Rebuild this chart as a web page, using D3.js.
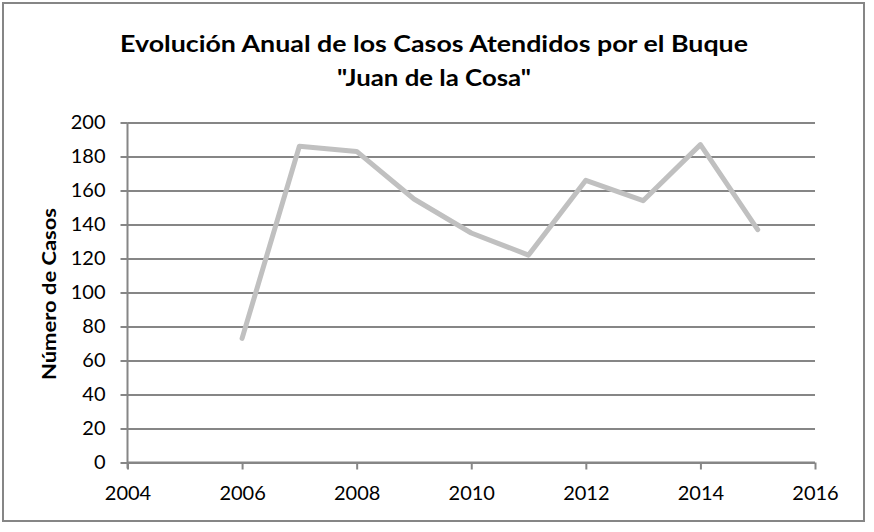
<!DOCTYPE html>
<html>
<head>
<meta charset="utf-8">
<script src="https://cdn.jsdelivr.net/npm/d3@7.9.0/dist/d3.min.js"></script>
<style>
  html, body { margin: 0; padding: 0; background: #fff; }
  svg { display: block; }
  text { font-family: Lato, "Open Sans", sans-serif; fill: #000; }
</style>
</head>
<body>
<div id="chart"></div>
<script>
// Datos
const years = [2006, 2007, 2008, 2009, 2010, 2011, 2012, 2013, 2014, 2015];
const casos = [73, 186, 183, 155, 135, 122, 166, 154, 187, 137];
const xTicks = [2004, 2006, 2008, 2010, 2012, 2014, 2016];
const yTicks = [0, 20, 40, 60, 80, 100, 120, 140, 160, 180, 200];
const titleLines = ['Evolución Anual de los Casos Atendidos por el Buque', '"Juan de la Cosa"'];
const yTitle = 'Número de Casos';

const width = 874;
const height = 532;
const plot = { left: 127.5, right: 815, top: 122.5, bottom: 462.5 };

const svg = d3.select('#chart')
    .append('svg')
    .attr('width', width)
    .attr('height', height);

// marco exterior
svg.append('rect')
    .attr('x', 3).attr('y', 3)
    .attr('width', 861).attr('height', 518)
    .attr('fill', '#fff')
    .attr('stroke', '#868686')
    .attr('stroke-width', 2);

const x = d3.scaleLinear().domain([2004, 2016]).range([plot.left, plot.right]);
const y = d3.scaleLinear().domain([0, 200]).range([plot.bottom, plot.top]);

// líneas de cuadrícula
svg.append('g')
    .attr('transform', `translate(${plot.left},0)`)
    .call(d3.axisLeft(y).tickValues(yTicks).tickFormat('').tickSize(-(plot.right - plot.left)))
    .call(g => g.select('.domain').remove())
    .call(g => g.selectAll('line').attr('stroke', '#868686').attr('stroke-width', 2));

// eje Y
svg.append('g')
    .attr('transform', `translate(${plot.left},0)`)
    .call(d3.axisLeft(y).tickValues(yTicks).tickSize(7).tickPadding(15))
    .call(g => g.select('.domain').attr('stroke', '#868686').attr('stroke-width', 2)
        .attr('d', `M0,${plot.top}V${plot.bottom + 6}`))
    .call(g => g.selectAll('line').attr('stroke', '#868686').attr('stroke-width', 2))
    .call(g => g.selectAll('text').attr('font-size', 20).attr('font-family', 'Lato, sans-serif').attr('fill', '#000'));

// eje X
svg.append('g')
    .attr('transform', `translate(0,${plot.bottom})`)
    .call(d3.axisBottom(x).tickValues(xTicks).tickFormat(d3.format('d')).tickSize(7).tickPadding(16))
    .call(g => g.select('.domain').attr('stroke', '#868686').attr('stroke-width', 2)
        .attr('d', `M${plot.left},0H${plot.right}`))
    .call(g => g.selectAll('line').attr('stroke', '#868686').attr('stroke-width', 2))
    .call(g => g.selectAll('text').attr('font-size', 20).attr('font-family', 'Lato, sans-serif').attr('fill', '#000'));

// serie
const line = d3.line()
    .x((d, i) => x(years[i]))
    .y(d => y(d));

svg.append('path')
    .datum(casos)
    .attr('d', line)
    .attr('fill', 'none')
    .attr('stroke', '#c0c0c0')
    .attr('stroke-width', 5)
    .attr('stroke-linejoin', 'round')
    .attr('stroke-linecap', 'round');

// título
svg.append('text')
    .attr('x', 434).attr('y', 52)
    .attr('text-anchor', 'middle')
    .attr('font-size', 23)
    .attr('font-weight', 'bold')
    .attr('textLength', 628)
    .attr('lengthAdjust', 'spacingAndGlyphs')
    .text(titleLines[0]);

svg.append('text')
    .attr('x', 434).attr('y', 86)
    .attr('text-anchor', 'middle')
    .attr('font-size', 23)
    .attr('font-weight', 'bold')
    .attr('textLength', 194)
    .attr('lengthAdjust', 'spacingAndGlyphs')
    .text(titleLines[1]);

// título del eje Y
svg.append('text')
    .attr('transform', 'translate(56,294) rotate(-90)')
    .attr('text-anchor', 'middle')
    .attr('font-size', 19)
    .attr('font-weight', 'bold')
    .attr('textLength', 172)
    .attr('lengthAdjust', 'spacingAndGlyphs')
    .text(yTitle);
</script>
</body>
</html>
